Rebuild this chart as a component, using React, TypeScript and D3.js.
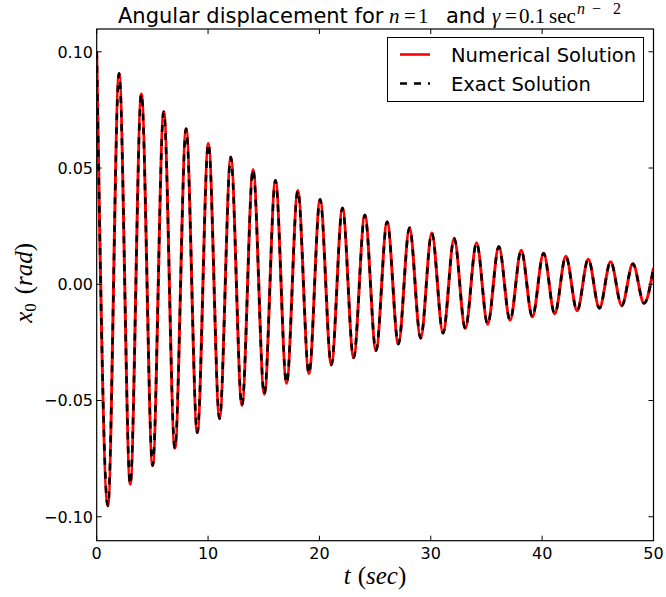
import React from "react";
import * as d3 from "d3";

const W = 666;
const H = 597;

// extrema times (sec), plus the end of the record
const times = [
  0, 1.0, 2.01, 3.01, 4.01, 5.02, 6.02, 7.02, 8.03, 9.03, 10.03, 11.03, 12.04, 13.04, 14.04, 15.05,
  16.05, 17.05, 18.06, 19.06, 20.06, 21.07, 22.07, 23.07, 24.08, 25.08, 26.08, 27.09, 28.09, 29.09,
  30.09, 31.1, 32.1, 33.1, 34.11, 35.11, 36.11, 37.12, 38.12, 39.12, 40.13, 41.13, 42.13, 43.14,
  44.14, 45.14, 46.15, 47.15, 48.15, 49.15, 50,
];

// angular displacement x0 (rad) at those times
const numerical = [
  0.1, -0.0953, 0.0907, -0.086, 0.0818, -0.078, 0.0742, -0.0705, 0.0669, -0.0638, 0.0605, -0.0578,
  0.0547, -0.0522, 0.0494, -0.0473, 0.0447, -0.0426, 0.0403, -0.0384, 0.0365, -0.0347, 0.0328,
  -0.0316, 0.0298, -0.0285, 0.0269, -0.0257, 0.0243, -0.0232, 0.022, -0.021, 0.0198, -0.019, 0.0179,
  -0.0172, 0.0162, -0.0155, 0.0146, -0.014, 0.0133, -0.0127, 0.012, -0.0114, 0.0108, -0.0103, 0.0097,
  -0.0092, 0.0088, -0.0082, 0.007,
];

const exact = [
  0.1, -0.0953, 0.0907, -0.086, 0.0818, -0.078, 0.0742, -0.0705, 0.0669, -0.0638, 0.0605, -0.0578,
  0.0547, -0.0522, 0.0494, -0.0473, 0.0447, -0.0426, 0.0403, -0.0384, 0.0365, -0.0347, 0.0328,
  -0.0316, 0.0298, -0.0285, 0.0269, -0.0257, 0.0243, -0.0232, 0.022, -0.021, 0.0198, -0.019, 0.0179,
  -0.0172, 0.0162, -0.0155, 0.0146, -0.014, 0.0133, -0.0127, 0.012, -0.0114, 0.0108, -0.0103, 0.0097,
  -0.0092, 0.0088, -0.0082, 0.007,
];

const xTicks = [0, 10, 20, 30, 40, 50];
const yTicks = [-0.1, -0.05, 0, 0.05, 0.1];
const legendLabels = ["Numerical Solution", "Exact Solution"];

const SANS = "'DejaVu Sans', sans-serif";
const SERIF = "'Liberation Serif', 'DejaVu Serif', serif";

export default function App() {
  const left = 96.7;
  const right = 653.5;
  const top = 29;
  const bottom = 540.7;
  const x = d3.scaleLinear().domain([0, 50]).range([left, right]);
  const y = d3.scaleLinear().domain([-0.1103, 0.1098]).range([bottom, top]);

  const line = d3
    .line<number>()
    .x((_, i) => x(times[i]))
    .y((d) => y(d))
    .curve(d3.curveMonotoneX);

  const fmt = d3.format(".2f");
  const tickLen = 5;
  const tb = 22.7; // title baseline
  const mathSize = 21;

  return (
    <svg
      width={W}
      height={H}
      style={{ position: "absolute", left: 0, top: 0, background: "#fff" }}
    >
      <defs>
        <clipPath id="plot">
          <rect x={left} y={top} width={right - left} height={bottom - top} />
        </clipPath>
      </defs>
      <rect x={0} y={0} width={W} height={H} fill="#fff" />

      <g clipPath="url(#plot)">
        <path d={line(numerical) || ""} fill="none" stroke="#ff0000" strokeWidth={3} />
        <path
          d={line(exact) || ""}
          fill="none"
          stroke="#000"
          strokeWidth={2.6}
          strokeDasharray="7,7"
        />
      </g>

      {/* frame */}
      <rect
        x={left}
        y={top}
        width={right - left}
        height={bottom - top}
        fill="none"
        stroke="#000"
        strokeWidth={1.2}
      />

      {/* x ticks */}
      {xTicks.map((t) => (
        <g key={"xt" + t}>
          <line x1={x(t)} x2={x(t)} y1={bottom} y2={bottom - tickLen} stroke="#000" strokeWidth={1} />
          <line x1={x(t)} x2={x(t)} y1={top} y2={top + tickLen} stroke="#000" strokeWidth={1} />
          <text
            x={x(t)}
            y={559}
            textAnchor="middle"
            fontFamily={SANS}
            fontSize={16}
            fill="#000"
          >
            {t}
          </text>
        </g>
      ))}

      {/* y ticks */}
      {yTicks.map((v) => (
        <g key={"yt" + v}>
          <line x1={left} x2={left + tickLen} y1={y(v)} y2={y(v)} stroke="#000" strokeWidth={1} />
          <line x1={right} x2={right - tickLen} y1={y(v)} y2={y(v)} stroke="#000" strokeWidth={1} />
          <text
            x={93}
            y={y(v)}
            dy="0.36em"
            textAnchor="end"
            fontFamily={SANS}
            fontSize={16}
            fill="#000"
          >
            {fmt(v)}
          </text>
        </g>
      ))}

      {/* title */}
      <g fill="#000">
        <text x={118} y={tb} fontFamily={SANS} fontSize={21}>Angular displacement for</text>
        <text x={389} y={tb} fontFamily={SERIF} fontStyle="italic" fontSize={mathSize}>n</text>
        <text x={404} y={tb} fontFamily={SERIF} fontSize={mathSize}>=</text>
        <text x={418} y={tb} fontFamily={SERIF} fontSize={mathSize}>1</text>
        <text x={446} y={tb} fontFamily={SANS} fontSize={21}>and</text>
        <text x={492} y={tb} fontFamily={SERIF} fontStyle="italic" fontSize={mathSize}>γ</text>
        <text x={505} y={tb} fontFamily={SERIF} fontSize={mathSize}>=</text>
        <text x={519} y={tb} fontFamily={SERIF} fontSize={mathSize}>0.1</text>
        <text x={549} y={tb} fontFamily={SERIF} fontSize={mathSize}>sec</text>
        <text x={577} y={tb - 9} fontFamily={SERIF} fontStyle="italic" fontSize={16}>n</text>
        <text x={592} y={tb - 9} fontFamily={SERIF} fontSize={16}>−</text>
        <text x={613} y={tb - 9} fontFamily={SERIF} fontSize={16}>2</text>
      </g>

      {/* x label */}
      <text x={375} y={584} textAnchor="middle" fontFamily={SERIF} fontSize={25} fill="#000">
        <tspan fontStyle="italic">t</tspan>
        <tspan dx={7}>(</tspan>
        <tspan fontStyle="italic">sec</tspan>
        <tspan>)</tspan>
      </text>

      {/* y label */}
      <text
        transform={`translate(32,${(top + bottom) / 2 - 2}) rotate(-90)`}
        textAnchor="middle"
        fontFamily={SERIF}
        fontSize={25}
        fill="#000"
      >
        <tspan fontStyle="italic">x</tspan>
        <tspan fontSize={17} dy={4}>0</tspan>
        <tspan dx={9} dy={-4}>(</tspan>
        <tspan fontStyle="italic">rad</tspan>
        <tspan>)</tspan>
      </text>

      {/* legend */}
      <rect x={387.5} y={37.5} width={256} height={64} fill="#fff" stroke="#000" strokeWidth={1} />
      <line x1={400} x2={430} y1={54.5} y2={54.5} stroke="#ff0000" strokeWidth={2.6} />
      <line
        x1={400}
        x2={430}
        y1={83.5}
        y2={83.5}
        stroke="#000"
        strokeWidth={2.6}
        strokeDasharray="7,7"
      />
      <text x={451} y={61.5} fontFamily={SANS} fontSize={19.5} fill="#000">
        {legendLabels[0]}
      </text>
      <text x={451} y={90.5} fontFamily={SANS} fontSize={19.5} fill="#000">
        {legendLabels[1]}
      </text>
    </svg>
  );
}
